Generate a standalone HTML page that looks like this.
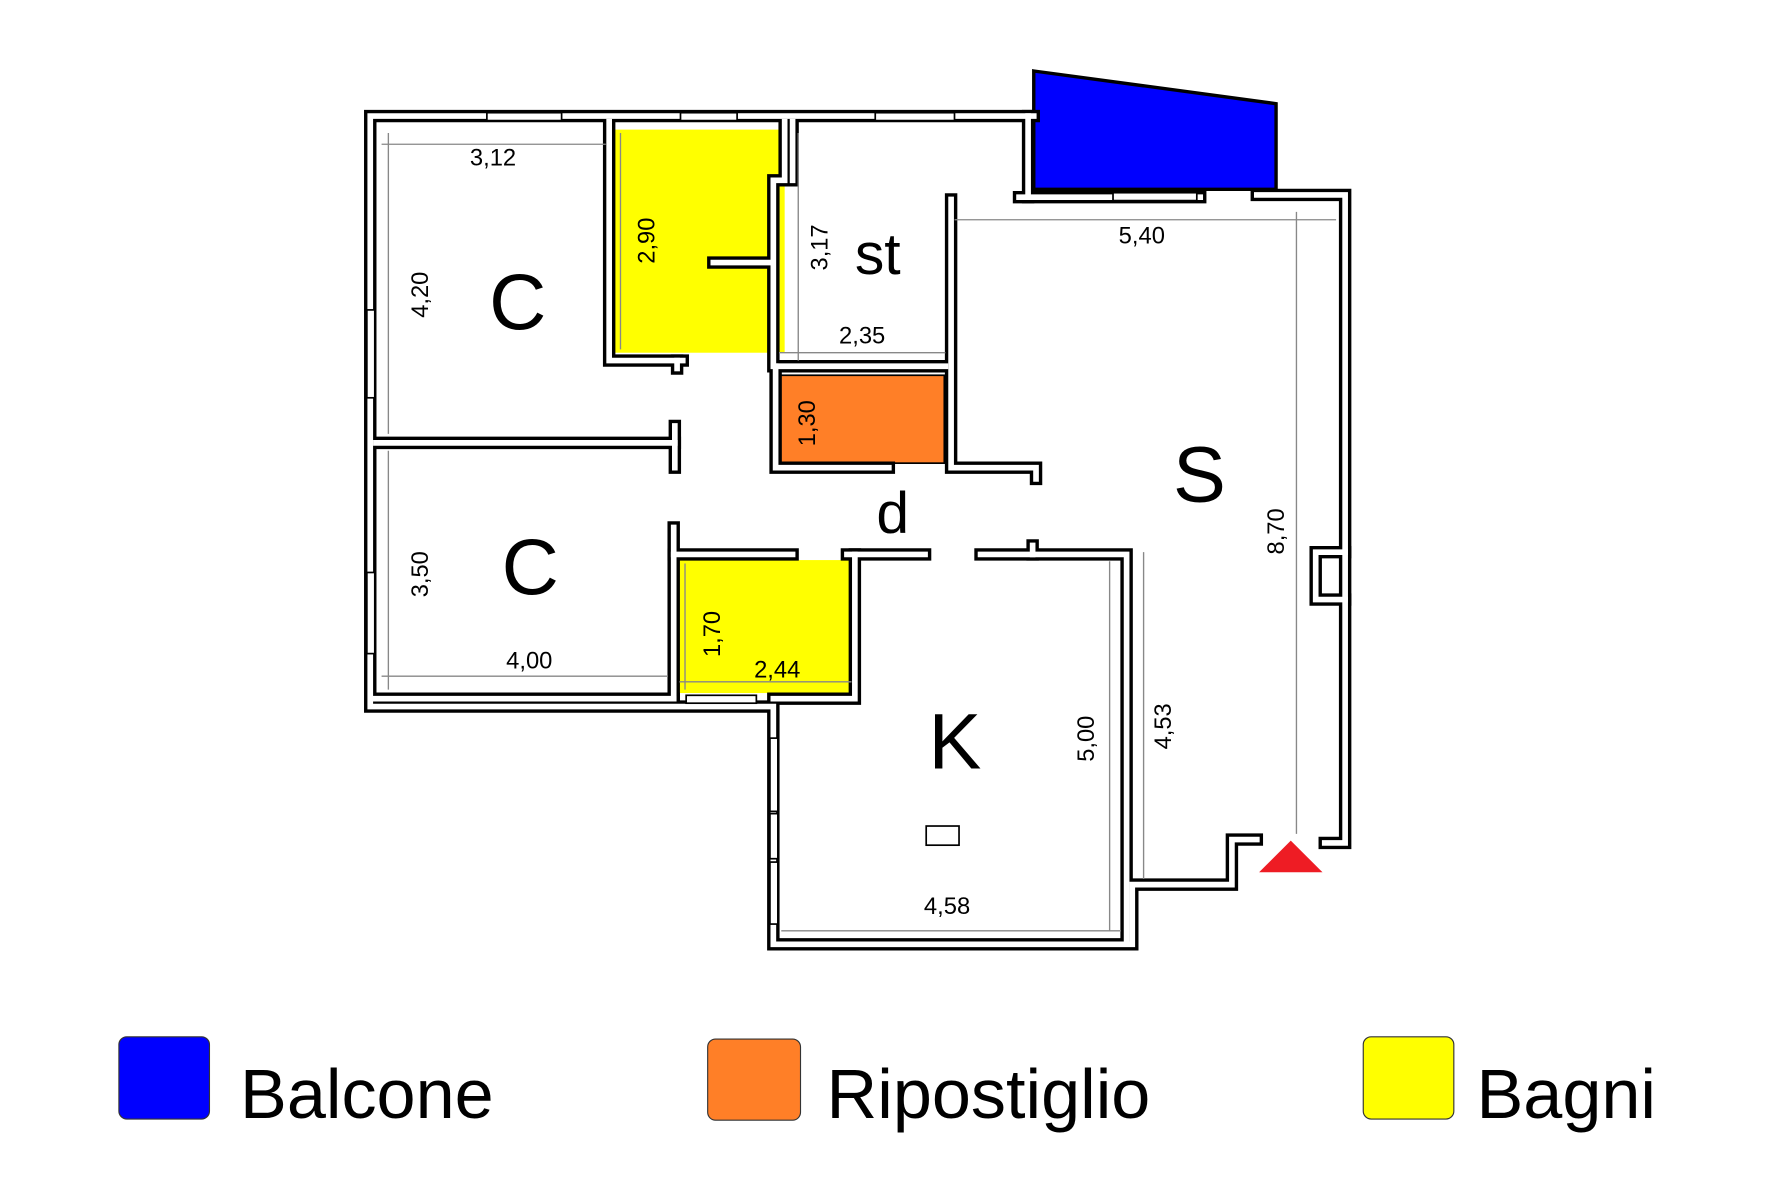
<!DOCTYPE html>
<html><head><meta charset="utf-8"><style>
html,body{margin:0;padding:0;background:#fff;}
svg{display:block;}
text{font-family:"Liberation Sans",Arial,sans-serif;fill:#000;}
.w{fill:none;stroke:#000;stroke-width:11;stroke-linejoin:miter;stroke-linecap:square}
.wi{fill:none;stroke:#fff;stroke-width:5;stroke-linejoin:miter;stroke-linecap:square}
.d{stroke:#888;stroke-width:1.2;fill:none}
.win{fill:#fff;stroke:#000;stroke-width:1.5}
</style></head><body>
<svg width="1772" height="1181" viewBox="0 0 1565 1048" preserveAspectRatio="none" xmlns="http://www.w3.org/2000/svg">
<defs>
<g id="walls" fill="none">
<path d="M913,103 L327,103 L327,627 L683,627 L683,838 L1000,838 L1000,785 L1088,785 L1088,745 L1110,745"/>
<path d="M1110,173 L1188,173 L1188,748 L1170,748"/>
<path d="M1188,490 L1162,490 L1162,532 L1188,532"/>
<path d="M900,175 L908,175 L908,103"/>
<path d="M908,175 L1060,175"/>
<path d="M332,393 L596,393"/>
<path d="M596,378 L596,415"/>
<path d="M538,108 L538,320 L603,320"/>
<path d="M598,320 L598,327"/>
<path d="M693,108 L693,160 L683,160 L683,325 L835,325"/>
<path d="M630,233 L680,233"/>
<path d="M700,108 L700,160"/>
<path d="M840,177 L840,415 L915,415 L915,425"/>
<path d="M685,325 L685,415 L785,415"/>
<path d="M595,468 L595,620"/>
<path d="M595,492 L700,492"/>
<path d="M748,492 L817,492"/>
<path d="M755,492 L755,620 L683,620"/>
<path d="M595,620 L330,620"/>
<path d="M866,492 L995,492 L995,835"/>
<path d="M912,484 L912,492"/>
</g>
</defs>
<rect width="1565" height="1048" fill="#fff"/>
<polygon points="913,63 1127,92 1127,168 913,168" fill="#0000ff" stroke="#000" stroke-width="3"/>
<rect x="543" y="115" width="150" height="198" fill="#ffff00"/>
<rect x="688" y="333" width="146" height="78" fill="#ff7f27" stroke="#000" stroke-width="1.5"/>
<rect x="600" y="497" width="152" height="118" fill="#ffff00"/>
<use href="#walls" class="w"/>
<use href="#walls" class="wi"/>
<rect class="win" x="430" y="100" width="66" height="7"/>
<rect class="win" x="601" y="100" width="50" height="7"/>
<rect class="win" x="773" y="100" width="70" height="7"/>
<rect class="win" x="983" y="171" width="74" height="7"/>
<rect class="win" x="606" y="617" width="62" height="7"/>
<rect class="win" x="324" y="275" width="7" height="78"/>
<rect class="win" x="324" y="508" width="7" height="72"/>
<rect class="win" x="680" y="655" width="7" height="65"/>
<rect class="win" x="680" y="722" width="7" height="40"/>
<rect class="win" x="680" y="765" width="7" height="55"/>
<path class="d" d="M337,128 L535,128 M343,118 L343,385 M337,600 L590,600 M343,400 L343,612 M548,118 L548,310 M705,118 L705,320 M688,313 L835,313 M605,500 L605,612 M600,605 L752,605 M843,195 L1180,195 M1145,188 L1145,740 M1010,490 L1010,780 M980,498 L980,826 M690,826 L990,826"/>
<rect x="818" y="733" width="29" height="17" fill="#fff" stroke="#000" stroke-width="1.5"/>
<polygon points="1112,774 1168,774 1140,746" fill="#ee1c24"/>
<text x="432" y="292" font-size="70">C</text>
<text x="443" y="527" font-size="70">C</text>
<text x="755" y="243" font-size="52">st</text>
<text x="1036" y="445" font-size="70">S</text>
<text x="774" y="473" font-size="52">d</text>
<text x="820" y="682" font-size="70">K</text>
<g font-size="21">
<text x="415" y="147">3,12</text>
<text x="741" y="305">2,35</text>
<text x="988" y="216">5,40</text>
<text x="447" y="593">4,00</text>
<text x="666" y="601">2,44</text>
<text x="816" y="811">4,58</text>
<text transform="translate(378,282) rotate(-90)">4,20</text>
<text transform="translate(578,234) rotate(-90)">2,90</text>
<text transform="translate(731,240) rotate(-90)">3,17</text>
<text transform="translate(720,396) rotate(-90)">1,30</text>
<text transform="translate(378,530) rotate(-90)">3,50</text>
<text transform="translate(636,583) rotate(-90)">1,70</text>
<text transform="translate(966,676) rotate(-90)">5,00</text>
<text transform="translate(1034,665) rotate(-90)">4,53</text>
<text transform="translate(1134,492) rotate(-90)">8,70</text>
</g>
<rect x="105" y="920" width="80" height="73" rx="7" fill="#0000ff" stroke="#333" stroke-width="1"/>
<rect x="625" y="922" width="82" height="72" rx="7" fill="#ff7f27" stroke="#333" stroke-width="1"/>
<rect x="1204" y="920" width="80" height="73" rx="7" fill="#ffff00" stroke="#333" stroke-width="1"/>
<g font-size="62">
<text x="212" y="992">Balcone</text>
<text x="730" y="992">Ripostiglio</text>
<text x="1304" y="992">Bagni</text>
</g>
</svg>
</body></html>
